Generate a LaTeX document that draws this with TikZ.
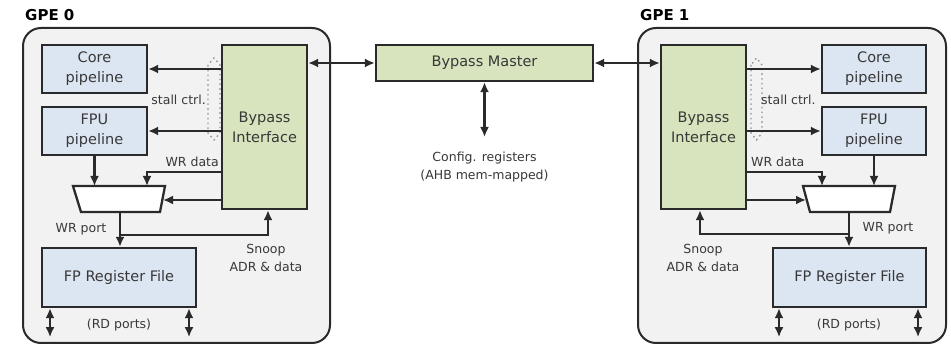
\documentclass[tikz,border=0pt]{standalone}
\usepackage{fontspec}
\setmainfont{DejaVu Sans}
\usetikzlibrary{arrows.meta,calc}
\definecolor{edge}{HTML}{2A2A2A}
\definecolor{txt}{HTML}{383838}
\definecolor{gpefill}{HTML}{F2F2F2}
\definecolor{bluefill}{HTML}{DCE6F2}
\definecolor{greenfill}{HTML}{D7E4BD}
\tikzset{
  gpebox/.style={draw=edge, line width=2pt, fill=gpefill, rounded corners=18pt, inner sep=0pt},
  blk/.style={draw=edge, line width=2.3pt, inner sep=0pt, text=txt, align=center,
              font=\fontsize{14.5}{20}\selectfont},
  bluebox/.style={blk, fill=bluefill},
  greenbox/.style={blk, fill=greenfill},
  lbl/.style={text=txt, align=center, inner sep=0pt, font=\fontsize{12.5}{18}\selectfont},
  title/.style={text=black, inner sep=0pt, font=\fontsize{15}{18}\selectfont\bfseries},
  arr/.style={draw=edge, line width=2.2pt, -{Latex[length=10pt,width=9pt]}},
  darr/.style={draw=edge, line width=2.2pt, {Latex[length=10pt,width=9pt]}-{Latex[length=10pt,width=9pt]}},
  muxshape/.style={draw=edge, line width=2.3pt, fill=white},
  stallmark/.style={draw=gray!85, line width=1.3pt, dash pattern=on 1.6pt off 3.2pt},
}
\begin{document}
\begin{tikzpicture}[x=1pt, y=-1pt]
\useasboundingbox (0,0) rectangle (951,347);
\fill[white] (0,0) rectangle (951,347);

% ---------------- enclosures ----------------
\node[gpebox, minimum width=307pt, minimum height=315pt] (gpe0) at (176.5,185.5) {};
\node[gpebox, minimum width=308pt, minimum height=315pt] (gpe1) at (792,185.5) {};
\node[title, anchor=west] (gpe0t) at (25,15) {GPE 0};
\node[title, anchor=west] (gpe1t) at (640,15) {GPE 1};

% ---------------- central master ----------------
\node[greenbox, minimum width=217pt, minimum height=36pt] (bm) at (484.5,63) {Bypass Master};
\coordinate (cfg) at (484.5,137);
\node[lbl] (cfgl) at (484.5,167) {Config. registers\\(AHB mem-mapped)};

% ================= GPE 0 =================
\node[bluebox, minimum width=105pt, minimum height=48pt] (core0) at (94.5,69) {Core\\pipeline};
\node[bluebox, minimum width=105pt, minimum height=48pt] (fpu0) at (94.5,131) {FPU\\pipeline};
\node[greenbox, minimum width=85pt, minimum height=164pt] (bi0) at (264.5,127) {Bypass\\Interface};
\node[bluebox, minimum width=154pt, minimum height=59pt] (rf0) at (119,277.5) {FP Register File};

% write-port multiplexer
\draw[muxshape] (73,186) -- (165,186) -- (160,212) -- (81,212) -- cycle;
\coordinate (m0fp) at (94.5,186);
\coordinate (m0wr) at (147,186);
\coordinate (m0in) at (163,200);
\coordinate (m0out) at (120,212);
\coordinate (m0tap) at (120,235);

% stall control bundle
\draw[stallmark] (208,65) -- (208,133) -- (214,140) -- (220,133) -- (220,65) -- (214,58) -- cycle;

\draw[arr] (bi0.west |- core0.east) -- (core0.east);
\draw[arr] (bi0.west |- fpu0.east) -- (fpu0.east);
\draw[arr] (bi0.west |- 0,172) -| (m0wr);
\draw[arr] (fpu0.south) -- (m0fp);
\draw[arr] (bi0.west |- m0in) -- (m0in);
\draw[arr] (m0out) -- (rf0.north -| m0out);
\draw[arr] (m0tap) -| ([xshift=3.5pt]bi0.south);
\draw[darr] ([xshift=-69pt]rf0.south) -- ++(0,29);
\draw[darr] ([xshift=70pt]rf0.south) -- ++(0,29);

\node[lbl, anchor=east] (stall0) at (206,100) {stall ctrl.};
\node[lbl, anchor=east] (wrd0) at (219,162) {WR data};
\node[lbl] (wrp0) at (81,229) {WR port};
\node[lbl] (snp0) at (266,257.5) {Snoop\\ADR \& data};
\node[lbl] (rd0) at (119,325) {(RD ports)};

% ================= GPE 1 =================
\node[greenbox, minimum width=85pt, minimum height=164pt] (bi1) at (703.5,127) {Bypass\\Interface};
\node[bluebox, minimum width=104pt, minimum height=48pt] (core1) at (874,69) {Core\\pipeline};
\node[bluebox, minimum width=104pt, minimum height=48pt] (fpu1) at (874,131) {FPU\\pipeline};
\node[bluebox, minimum width=153pt, minimum height=59pt] (rf1) at (849.5,277.5) {FP Register File};

\draw[muxshape] (803,186) -- (895,186) -- (890,212) -- (810,212) -- cycle;
\coordinate (m1fp) at (874,186);
\coordinate (m1wr) at (822,186);
\coordinate (m1in) at (806,200);
\coordinate (m1out) at (849,212);
\coordinate (m1tap) at (849,234);

\draw[stallmark] (751,65) -- (751,133) -- (756.5,140) -- (762,133) -- (762,65) -- (756.5,58) -- cycle;

\draw[arr] (bi1.east |- core1.west) -- (core1.west);
\draw[arr] (bi1.east |- fpu1.west) -- (fpu1.west);
\draw[arr] (bi1.east |- 0,172) -| (m1wr);
\draw[arr] (fpu1.south) -- (m1fp);
\draw[arr] (bi1.east |- m1in) -- (m1in);
\draw[arr] (m1out) -- (rf1.north -| m1out);
\draw[arr] (m1tap) -| ([xshift=-3.5pt]bi1.south);
\draw[darr] ([xshift=-70.5pt]rf1.south) -- ++(0,29);
\draw[darr] ([xshift=68.5pt]rf1.south) -- ++(0,29);

\node[lbl, anchor=west] (stall1) at (761,100) {stall ctrl.};
\node[lbl, anchor=west] (wrd1) at (751,162) {WR data};
\node[lbl] (wrp1) at (888,228) {WR port};
\node[lbl] (snp1) at (703,257.5) {Snoop\\ADR \& data};
\node[lbl] (rd1) at (849,325) {(RD ports)};

% ---------------- links to the master ----------------
\draw[darr] (bi0.east |- bm.west) -- (bm.west);
\draw[darr] (bm.east) -- (bi1.west |- bm.east);
\draw[darr] (bm.south) -- (cfg);
\end{tikzpicture}
\end{document}
